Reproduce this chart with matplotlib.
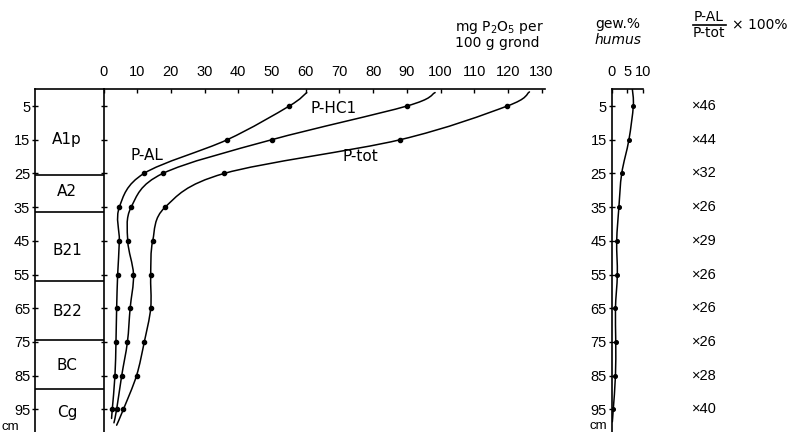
import matplotlib
matplotlib.use("Agg")
import matplotlib.pyplot as plt
from matplotlib.path import Path
from matplotlib.patches import PathPatch
from matplotlib.transforms import blended_transform_factory

# ---------------- data ----------------
depths = [5, 15, 25, 35, 45, 55, 65, 75, 85, 95]
p_al = [55.1, 36.7, 12.0, 4.7, 4.7, 4.2, 3.9, 3.7, 3.4, 2.6]
p_hcl = [90.0, 49.9, 17.6, 8.2, 7.2, 8.9, 7.9, 7.1, 5.4, 3.9]
p_tot = [119.8, 88.0, 35.8, 18.3, 14.6, 14.0, 14.0, 12.1, 9.8, 5.9]
# where each hand-drawn line runs out beyond the first / last dot: (value, depth)
p_al_ends = [(60.3, 1.0), (2.4, 97.7)]
p_hcl_ends = [(98.4, 1.0), (3.1, 99.0)]
p_tot_ends = [(126.4, 0.8), (3.9, 99.7)]

humus = [6.9, 5.5, 3.2, 2.3, 1.6, 1.8, 1.2, 1.3, 1.2, 0.5]
humus_ends = [(6.6, 0.0), (0.2, 98.7)]

ratio = [46, 44, 32, 26, 29, 26, 26, 26, 28, 40]

horizons = ["A1p", "A2", "B21", "B22", "BC", "Cg"]
horizon_bounds = [25.5, 36.5, 57.0, 74.5, 89.0]
horizon_label_depth = [15, 30.5, 48, 66, 82, 96]

x_ticks = list(range(0, 131, 10))
humus_ticks = [0, 5, 10]

# ---------------- layout helpers ----------------
W, H = 798, 432
fig = plt.figure(figsize=(W / 100, H / 100), dpi=100)

def fx(px):
    return px / W

def fy(py):
    return 1 - py / H

y_top_px = 89.2      # depth 0
px_per_unit = 3.37
y_bottom_depth = (H - y_top_px) / px_per_unit

TICKFONT = ["Liberation Sans", "DejaVu Sans"]
LABFONT = ["DejaVu Sans"]
TFS = 10.5

x0_px = 103.5
x_right = 131
ax = fig.add_axes([fx(x0_px), 0, fx(x_right * px_per_unit), fy(y_top_px)])
ax_hz = fig.add_axes([fx(35), 0, fx(x0_px - 35), fy(y_top_px)])
hum_left = 611.7
ax_h = fig.add_axes([fx(hum_left), 0, fx(31.3), fy(y_top_px)])

for a in (ax, ax_hz, ax_h):
    a.set_ylim(y_bottom_depth, 0)
    a.patch.set_alpha(0)
    for s in ("right", "bottom"):
        a.spines[s].set_visible(False)
    for s in ("left", "top"):
        a.spines[s].set_linewidth(1.2)

# ---------------- main P axes ----------------
ax.set_xlim(0, x_right)
ax.xaxis.tick_top()
ax.set_xticks(x_ticks)
ax.set_xticklabels([str(t) for t in x_ticks], fontfamily=TICKFONT, fontsize=TFS)
ax.tick_params(axis="x", direction="in", length=3, width=1, pad=7)
ax.set_yticks(depths)
ax.set_yticklabels([])
ax.tick_params(axis="y", direction="inout", length=4, width=1)


def smooth_path(xs, ys):
    pts = list(zip(xs, ys))
    verts = [pts[0]]
    codes = [Path.MOVETO]
    n = len(pts)
    for i in range(n - 1):
        p0 = pts[i - 1] if i > 0 else pts[i]
        p1 = pts[i]
        p2 = pts[i + 1]
        p3 = pts[i + 2] if i + 2 < n else pts[i + 1]
        c1 = (p1[0] + (p2[0] - p0[0]) / 6, p1[1] + (p2[1] - p0[1]) / 6)
        c2 = (p2[0] - (p3[0] - p1[0]) / 6, p2[1] - (p3[1] - p1[1]) / 6)
        verts += [c1, c2, p2]
        codes += [Path.CURVE4] * 3
    return Path(verts, codes)


def draw_curve(a, vals, ends, ms=3.0):
    xs = [ends[0][0]] + list(vals) + [ends[1][0]]
    ys = [ends[0][1]] + list(depths) + [ends[1][1]]
    a.add_patch(PathPatch(smooth_path(xs, ys), fill=False, lw=1.1,
                          edgecolor="black", capstyle="round"))
    a.plot(vals, depths, "o", color="black", ms=ms, ls="none")


draw_curve(ax, p_al, p_al_ends)
draw_curve(ax, p_hcl, p_hcl_ends)
draw_curve(ax, p_tot, p_tot_ends)

ax.text(12.9, 19.8, "P-AL", fontfamily=LABFONT, fontsize=11, ha="center", va="center")
ax.text(68.4, 5.6, "P-HC1", fontfamily=LABFONT, fontsize=11, ha="center", va="center")
ax.text(76.1, 20.1, "P-tot", fontfamily=LABFONT, fontsize=11, ha="center", va="center")

# ---------------- horizon column ----------------
ax_hz.set_xlim(0, 1)
ax_hz.set_xticks([])
ax_hz.set_yticks(depths)
ax_hz.set_yticklabels([str(d) for d in depths], fontfamily=TICKFONT, fontsize=TFS)
ax_hz.tick_params(axis="y", direction="inout", length=4, width=1, pad=1.5)
for b in horizon_bounds:
    ax_hz.axhline(b, color="black", lw=1.2)
for name, d in zip(horizons, horizon_label_depth):
    ax_hz.text(0.47, d, name, fontfamily=LABFONT, fontsize=11, ha="center", va="center")

# ---------------- humus axes ----------------
ax_h.set_xlim(0, 10)
ax_h.xaxis.tick_top()
ax_h.set_xticks(humus_ticks)
ax_h.set_xticklabels([str(t) for t in humus_ticks], fontfamily=TICKFONT, fontsize=TFS)
ax_h.tick_params(axis="x", direction="in", length=3, width=1, pad=7)
ax_h.set_yticks(depths)
ax_h.set_yticklabels([str(d) for d in depths], fontfamily=TICKFONT, fontsize=TFS)
ax_h.tick_params(axis="y", direction="inout", length=4, width=1, pad=1.5)
draw_curve(ax_h, humus, humus_ends, ms=2.6)

# ---------------- ratio column ----------------
tr = blended_transform_factory(fig.transFigure, ax_h.transData)
for d, r in zip(depths, ratio):
    fig.text(fx(692), d, "\u00d7" + str(r), transform=tr, fontfamily=TICKFONT,
             fontsize=TFS, ha="left", va="center")

# ---------------- headers ----------------
fig.text(fx(455), fy(31), "mg P$_2$O$_5$ per", fontfamily=LABFONT, fontsize=10,
         ha="left", va="baseline")
fig.text(fx(455), fy(47), "100 g grond", fontfamily=LABFONT, fontsize=10,
         ha="left", va="baseline")
fig.text(fx(618), fy(28), "gew.%", fontfamily=LABFONT, fontsize=10,
         ha="center", va="baseline")
fig.text(fx(618), fy(44), "humus", fontfamily=LABFONT, fontsize=10,
         style="italic", ha="center", va="baseline")
fig.text(fx(709), fy(21), "P-AL", fontfamily=LABFONT, fontsize=10,
         ha="center", va="baseline")
fig.add_artist(plt.Line2D([fx(693), fx(726)], [fy(25), fy(25)], color="black", lw=1.2))
fig.text(fx(709), fy(37), "P-tot", fontfamily=LABFONT, fontsize=10,
         ha="center", va="baseline")
fig.text(fx(732), fy(29), "\u00d7 100%", fontfamily=LABFONT, fontsize=10,
         ha="left", va="baseline")

fig.text(fx(2), fy(430), "cm", fontfamily=TICKFONT, fontsize=9.5, ha="left", va="baseline")
fig.text(fx(589), fy(429), "cm", fontfamily=TICKFONT, fontsize=9.5, ha="left", va="baseline")

fig.savefig("out.png", dpi=100, facecolor="white")
